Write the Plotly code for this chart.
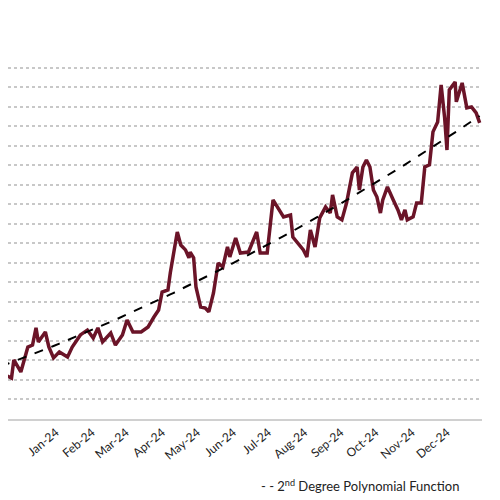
import numpy as np
import pandas as pd
import plotly.graph_objects as go

# days since 2023-11-15 and the series value (units of one gridline)
days = [0, 9, 11, 17, 23, 27, 30, 32, 38, 41, 45, 50, 57, 61, 68, 74, 79, 83, 87, 94,
        98, 104, 108, 113, 120, 126, 131, 135, 138, 143, 145, 148, 151, 154, 158, 161, 162, 165, 167, 171,
        175, 178, 182, 186, 190, 194, 196, 201, 205, 212, 219, 222, 228, 233, 237, 242, 248, 250, 259, 262,
        265, 269, 273, 278, 282, 284, 288, 292, 296, 301, 305, 307, 310, 313, 316, 319, 322, 325, 327, 331,
        336, 340, 343, 346, 348, 353, 356, 360, 363, 367, 370, 374, 377, 380, 382, 384, 389, 390, 395, 399,
        403, 407, 410]
values = [2.36, 2.10, 3.03, 2.41, 3.69, 3.79, 4.67, 3.95, 4.46, 3.69, 3.13, 3.44, 3.18, 3.69, 4.31, 4.56, 4.15, 4.67, 3.95, 4.41,
          3.79, 4.31, 5.08, 4.46, 4.46, 4.72, 5.23, 5.59, 6.51, 6.62, 7.49, 8.51, 9.59, 8.92, 8.67, 8.26, 8.56, 8.26, 6.77, 5.74,
          5.69, 5.49, 6.46, 8.00, 7.79, 8.82, 8.31, 9.28, 8.51, 8.56, 9.59, 8.51, 8.51, 11.23, 10.82, 10.36, 10.46, 9.33, 8.67, 8.31,
          9.69, 8.82, 10.31, 10.87, 10.56, 11.49, 10.36, 10.21, 11.08, 12.62, 12.92, 11.74, 12.92, 13.28, 12.92, 11.74, 11.38, 10.56, 11.23, 11.90,
          11.23, 10.72, 10.21, 10.72, 10.21, 10.36, 11.08, 11.08, 12.92, 13.03, 14.72, 15.23, 17.13, 15.44, 13.79, 16.87, 17.28, 16.26, 17.23, 15.95,
          16.00, 15.69, 15.18]

dates = pd.Timestamp("2023-11-15") + pd.to_timedelta(days, unit="D")

# 2nd degree polynomial trend
coef = np.polyfit(days, values, 2)
trend = np.polyval(coef, days)

fig = go.Figure()
fig.add_trace(go.Scatter(x=dates, y=values, mode="lines",
                         line=dict(color="#6b1428", width=3.5), showlegend=False))
fig.add_trace(go.Scatter(x=dates, y=trend, mode="lines",
                         line=dict(color="black", width=2, dash="dash"), showlegend=False))

fig.update_layout(
    width=500, height=500,
    margin=dict(l=0, r=26, t=56, b=89, autoexpand=False),
    plot_bgcolor="white", paper_bgcolor="white",
    font=dict(family="Lato", size=12, color="#222"),
)
fig.update_xaxes(
    range=["2023-11-21", "2024-12-31"],
    tickvals=pd.date_range("2023-12-01", "2024-12-01", freq="MS"),
    tickformat="%b-%y", tickangle=-40, automargin=False,
    showgrid=False, showline=True, linecolor="#d0d0d0", linewidth=1.5,
    ticks="",
)
fig.update_yaxes(
    range=[0, 18.2], dtick=1, showticklabels=False, automargin=False,
    showgrid=True, gridcolor="#c8c8c8", griddash="dot", gridwidth=1.5,
    zeroline=False,
)
fig.add_annotation(
    xref="paper", yref="paper", x=0.53, y=-0.186, xanchor="left", yanchor="middle",
    text="- - 2<sup>nd</sup> Degree Polynomial Function", showarrow=False,
    font=dict(family="Lato", size=13, color="#222"),
)

fig.write_html("out.html")
